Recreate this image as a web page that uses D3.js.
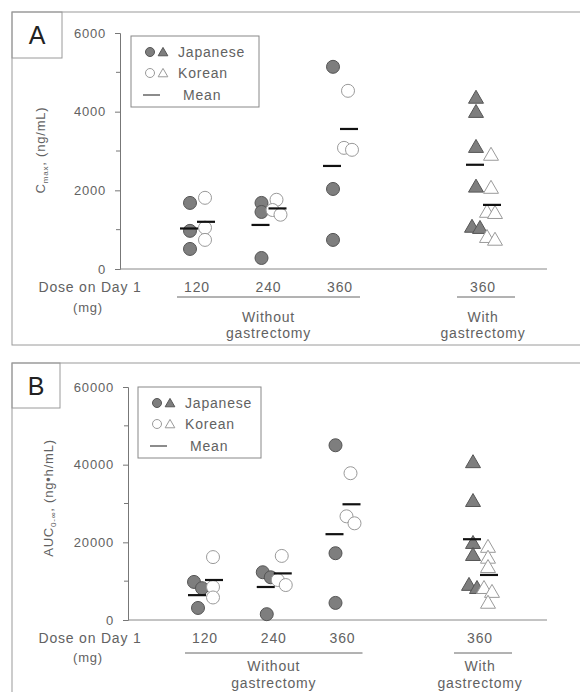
<!DOCTYPE html>
<html>
<head>
<meta charset="utf-8">
<script src="https://cdn.jsdelivr.net/npm/d3@7"></script>
<style>
  body { margin: 0; background: #fff; }
  text { font-family: "Liberation Sans", Arial, sans-serif; fill: #626262; letter-spacing: 0.8px; }
</style>
</head>
<body>
<script>

// Dose categories (the 4th group is the gastrectomy group)
var doses = ["120", "240", "360", "360"];
var shapes = ["circle", "circle", "circle", "triangle"];

// Panel A - Cmax (ng/mL)
var cmaxJapanese = [[1680, 970, 510], [1680, 1450, 280], [5140, 2035, 740], [4350, 3990, 3100, 2090, 1070, 1040]];
var cmaxKorean = [[1810, 1050, 740], [1760, 1500, 1380], [4530, 3080, 3030], [2900, 2060, 1450, 1420, 810, 740]];
var cmaxMeanJapanese = [1030, 1120, 2620, 2650];
var cmaxMeanKorean = [1200, 1540, 3560, 1630];
var cmaxTicks = [0, 2000, 4000, 6000];
var cmaxMinor = [1000, 3000, 5000];

// Panel B - AUC (ng*h/mL)
var aucJapanese = [[9800, 8200, 3100], [12300, 11000, 1500], [45000, 17200, 4400], [40600, 30600, 19800, 16700, 9000, 8200]];
var aucKorean = [[16200, 8500, 5800], [16500, 10300, 9000], [37800, 26700, 24900], [18800, 16000, 13600, 8200, 7200, 4400]];
var aucMeanJapanese = [6400, 8500, 22100, 20800];
var aucMeanKorean = [10300, 12000, 29800, 11600];
var aucTicks = [0, 20000, 40000, 60000];
var aucMinor = [10000, 30000, 50000];

var width = 580, height = 692;

var svg = d3.select("body").append("svg")
    .attr("width", width)
    .attr("height", height);

var panels = [
    { letter: "A", top: 12, bottom: 345, letterW: 50, letterH: 46,
      y0: 269, y1: 33, axisX: 120, xFrom: 197, xTo: 483,
      ticks: cmaxTicks, minor: cmaxMinor, max: 6000,
      jp: cmaxJapanese, kr: cmaxKorean, mJp: cmaxMeanJapanese, mKr: cmaxMeanKorean,
      legend: { x: 131, y: 36, w: 128, h: 71 },
      labelX: 45, labelY: 150, lab: "C", sub: "max", rest: ", (ng/mL)",
      doseY: 292, mgY: 312, lineY: 297, grp1Y: 322, grp2Y: 338 },
    { letter: "B", top: 363, bottom: 700, letterW: 48, letterH: 45,
      y0: 620, y1: 387, axisX: 128, xFrom: 205, xTo: 480,
      ticks: aucTicks, minor: aucMinor, max: 60000,
      jp: aucJapanese, kr: aucKorean, mJp: aucMeanJapanese, mKr: aucMeanKorean,
      legend: { x: 138, y: 387, w: 123, h: 71 },
      labelX: 53, labelY: 498, lab: "AUC", sub: "0-\u221e", rest: ", (ng\u2022h/mL)",
      doseY: 643, mgY: 662, lineY: 653, grp1Y: 671, grp2Y: 688 }
];

panels.forEach(drawPanel);

function drawPanel(p) {

    var g = svg.append("g");

    // Panel frame and letter box
    g.append("rect")
        .attr("x", 12).attr("y", p.top)
        .attr("width", 575).attr("height", p.bottom - p.top)
        .attr("fill", "none").attr("stroke", "#9a9a9a");

    g.append("rect")
        .attr("x", 12).attr("y", p.top)
        .attr("width", p.letterW).attr("height", p.letterH)
        .attr("fill", "none").attr("stroke", "#9a9a9a");

    g.append("text")
        .attr("x", 12 + p.letterW / 2).attr("y", p.top + 32)
        .attr("text-anchor", "middle")
        .style("font-size", "25px")
        .style("letter-spacing", "0px")
        .style("fill", "#222")
        .text(p.letter);

    // Scales
    var y = d3.scaleLinear()
        .domain([0, p.max])
        .range([p.y0, p.y1]);

    var x = d3.scalePoint()
        .domain(["0", "1", "2", "gap", "3"])
        .range([p.xFrom, p.xTo]);
    var slot = function(i) { return x(i < 3 ? String(i) : "3"); };

    // Y axis
    var yAxis = d3.axisLeft(y)
        .tickValues(p.ticks)
        .tickFormat(d3.format("d"))
        .tickSize(5)
        .tickPadding(9);

    var ax = g.append("g")
        .attr("transform", "translate(" + p.axisX + ",0)")
        .call(yAxis);
    ax.selectAll("path, line").attr("stroke", "#777");
    ax.selectAll("text")
        .style("font-size", "13px")
        .style("font-family", "\"Liberation Sans\", Arial, sans-serif")
        .attr("fill", "#777");

    g.selectAll(".minor")
        .data(p.minor)
        .enter().append("line")
          .attr("x1", p.axisX - 4).attr("x2", p.axisX)
          .attr("y1", function(d) { return y(d); })
          .attr("y2", function(d) { return y(d); })
          .attr("stroke", "#777");

    // Baseline
    g.append("line")
        .attr("x1", p.axisX).attr("x2", 547)
        .attr("y1", y(0)).attr("y2", y(0))
        .attr("stroke", "#888");

    // Y label
    var lab = g.append("text")
        .attr("transform", "translate(" + p.labelX + "," + p.labelY + ") rotate(-90)")
        .attr("text-anchor", "middle")
        .style("font-size", "13px");
    lab.append("tspan").text(p.lab);
    lab.append("tspan").attr("dy", 3).style("font-size", "8px").text(p.sub);
    lab.append("tspan").attr("dy", -3).text(p.rest);

    // X labels
    g.append("text")
        .attr("x", 90).attr("y", p.doseY)
        .attr("text-anchor", "middle")
        .style("font-size", "14px")
        .text("Dose on Day 1");
    g.append("text")
        .attr("x", 88).attr("y", p.mgY)
        .attr("text-anchor", "middle")
        .style("font-size", "13px")
        .text("(mg)");

    g.selectAll(".dose")
        .data(doses)
        .enter().append("text")
          .attr("x", function(d, i) { return slot(i); })
          .attr("y", p.doseY)
          .attr("text-anchor", "middle")
          .style("font-size", "14px")
          .text(function(d) { return d; });

    // Group underlines and names
    g.append("line")
        .attr("x1", slot(0) - 20).attr("x2", slot(2) + 20)
        .attr("y1", p.lineY).attr("y2", p.lineY)
        .attr("stroke", "#666");
    g.append("line")
        .attr("x1", slot(3) - 26).attr("x2", slot(3) + 32)
        .attr("y1", p.lineY).attr("y2", p.lineY)
        .attr("stroke", "#666");

    var mid = (slot(0) + slot(2)) / 2;
    [["Without", mid, p.grp1Y], ["gastrectomy", mid, p.grp2Y],
     ["With", slot(3), p.grp1Y], ["gastrectomy", slot(3), p.grp2Y]].forEach(function(t) {
        g.append("text")
            .attr("x", t[1]).attr("y", t[2])
            .attr("text-anchor", "middle")
            .style("font-size", "14px")
            .text(t[0]);
    });

    // Data points
    drawSeries(g, p.jp, x, y, slot, -7, true);
    drawSeries(g, p.kr, x, y, slot, 8, false);

    // Mean dashes
    [[p.mJp, -8], [p.mKr, 9]].forEach(function(m) {
        g.selectAll(null)
            .data(m[0])
            .enter().append("line")
              .attr("x1", function(d, i) { return slot(i) + m[1] - 9; })
              .attr("x2", function(d, i) { return slot(i) + m[1] + 9; })
              .attr("y1", function(d) { return y(d); })
              .attr("y2", function(d) { return y(d); })
              .attr("stroke", "#111")
              .attr("stroke-width", 2.2);
    });

    // Legend
    var L = p.legend;
    var leg = g.append("g").attr("transform", "translate(" + L.x + "," + L.y + ")");
    leg.append("rect")
        .attr("width", L.w).attr("height", L.h)
        .attr("fill", "#fff").attr("stroke", "#888");

    var rows = [["Japanese", true], ["Korean", false]];
    rows.forEach(function(r, i) {
        var ry = 16 + i * 21;
        marker(leg, "circle", 19, ry, r[1], 4.5);
        marker(leg, "triangle", 32, ry, r[1], 4.2);
        leg.append("text")
            .attr("x", 47).attr("y", ry + 5)
            .style("font-size", "14px")
            .text(r[0]);
    });
    leg.append("line")
        .attr("x1", 12).attr("x2", 29)
        .attr("y1", 59).attr("y2", 59)
        .attr("stroke", "#666").attr("stroke-width", 1.5);
    leg.append("text")
        .attr("x", 52).attr("y", 64)
        .style("font-size", "14px")
        .text("Mean");
}

function drawSeries(g, groups, x, y, slot, dx, filled) {
    groups.forEach(function(vals, i) {
        // Sort and spread overlapping points sideways
        var pts = vals.slice().sort(function(a, b) { return b - a; })
            .map(function(v) { return { v: v, py: y(v) }; });
        var clusters = [];
        pts.forEach(function(pt) {
            var last = clusters[clusters.length - 1];
            if (last && Math.abs(last[last.length - 1].py - pt.py) < 9) last.push(pt);
            else clusters.push([pt]);
        });
        clusters.forEach(function(c) {
            c.forEach(function(pt, k) {
                var off = (k - (c.length - 1) / 2) * 8;
                marker(g, shapes[i], slot(i) + dx + off, pt.py, filled, 6.5);
            });
        });
    });
}

function marker(g, shape, cx, cy, filled, r) {
    var fill = filled ? "#7e7e7e" : "#fff";
    var stroke = filled ? "#555" : "#9a9a9a";
    if (shape === "circle") {
        g.append("circle")
            .attr("cx", cx).attr("cy", cy).attr("r", r)
            .attr("fill", fill).attr("stroke", stroke).attr("stroke-width", 1);
    } else {
        g.append("path")
            .attr("d", d3.symbol().type(d3.symbolTriangle).size(r * r * 2.3)())
            .attr("transform", "translate(" + cx + "," + (cy + 1) + ")")
            .attr("fill", fill).attr("stroke", stroke).attr("stroke-width", 1);
    }
}

</script>
</body>
</html>
